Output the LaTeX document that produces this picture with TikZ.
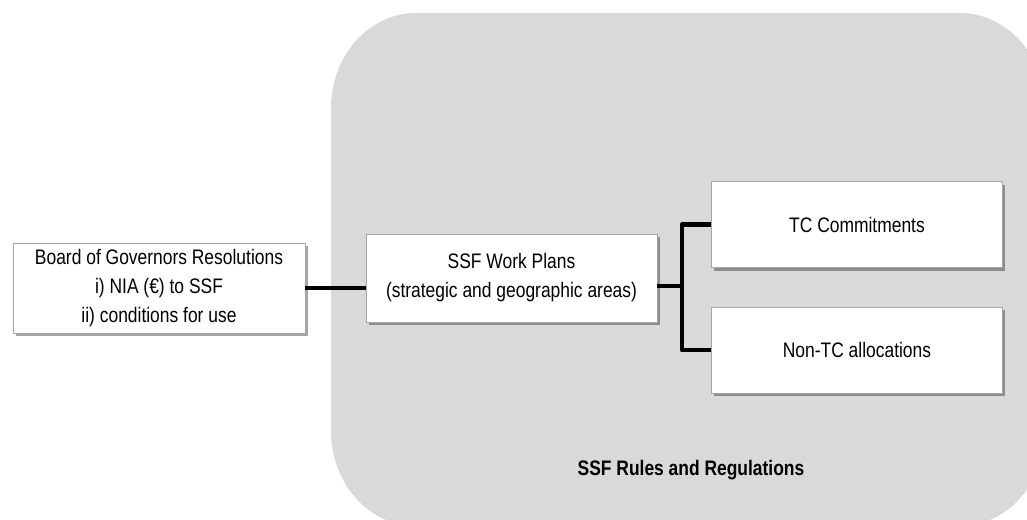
\documentclass[tikz,border=0pt]{standalone}
\usepackage{fontspec}
\setmainfont{Liberation Sans}[FakeStretch=0.83]
\usetikzlibrary{shadows}
\definecolor{panelgray}{HTML}{D9D9D9}
\definecolor{boxborder}{HTML}{A6A6A6}
\begin{document}
\begin{tikzpicture}[x=1pt,y=-1pt,
  box/.style={draw=boxborder, fill=white, line width=0.9pt, align=center,
    inner sep=0pt, font=\fontsize{21}{29}\selectfont,
    drop shadow={shadow xshift=2.5pt, shadow yshift=-3pt, fill=black, opacity=0.35}},
  conn/.style={line width=4.5pt, line join=round}]
\useasboundingbox (0,0) rectangle (1027,519);
\clip (0,0) rectangle (1027,519);
\fill[white] (0,0) rectangle (1027,519);
% panel
\fill[panelgray] (331,108) .. controls (331,55.5) and (369,13) .. (416,13)
  -- (960,13) .. controls (1007,13) and (1045,55.5) .. (1045,108)
  -- (1045,431) .. controls (1045,483.5) and (1007,526) .. (960,526)
  -- (416,526) .. controls (369,526) and (331,483.5) .. (331,431) -- cycle;
\node[font=\fontsize{21}{29}\selectfont\bfseries] (rules) at (691,470) {SSF Rules and Regulations};
% boxes
\node[box, minimum width=292pt, minimum height=90pt] (board) at (159,288)
  {Board of Governors Resolutions\\ i) NIA (€) to SSF\\ ii) conditions for use};
\node[box, minimum width=291pt, minimum height=88pt] (wp) at (511.5,278)
  {SSF Work Plans\\ (strategic and geographic areas)};
\node[box, minimum width=291pt, minimum height=86pt] (tc) at (857,224.5)
  {TC Commitments};
\node[box, minimum width=291pt, minimum height=86pt] (ntc) at (857,350)
  {Non-TC allocations};
% connectors
\coordinate (j) at (682,286);
\draw[conn] (board.east) -- (board.east -| wp.west);
\draw[conn] (wp.east |- j) -- (j);
\draw[conn] (tc.west) -| (j) |- (ntc.west);
\end{tikzpicture}
\end{document}
